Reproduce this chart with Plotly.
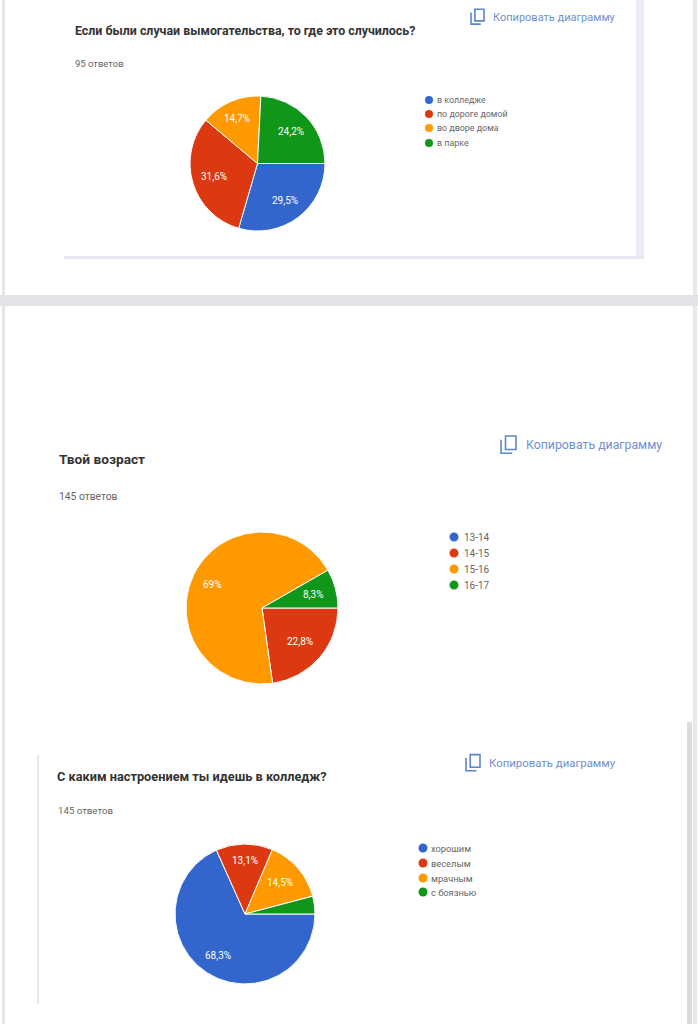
import plotly.graph_objects as go

W = 698
H = 1024

# values
where_labels = ['в колледже', 'по дороге домой', 'во дворе дома', 'в парке']
where_values = [29.5, 31.6, 14.7, 24.2]
where_text = ['29,5%', '31,6%', '14,7%', '24,2%']

age_labels = ['13-14', '14-15', '15-16', '16-17']
age_values = [0, 22.8, 69, 8.3]
age_text = ['', '22,8%', '69%', '8,3%']

mood_labels = ['хорошим', 'веселым', 'мрачным', 'с боязнью']
mood_values = [68.3, 13.1, 14.5, 4.1]
mood_text = ['68,3%', '13,1%', '14,5%', '']

colors = ['#3366cc', '#dc3912', '#ff9900', '#109618']
font = 'Roboto'
shapes = []
notes = []


def px(x):
    return x / W


def py(y):
    return 1 - y / H


def rect(x0, y0, x1, y1, color):
    shapes.append(dict(type='rect', xref='paper', yref='paper', x0=px(x0), x1=px(x1), y0=py(y0), y1=py(y1),
                       fillcolor=color, line_width=0, layer='below'))


def label(x, y, text, size, color, bold=False, anchor='left'):
    if bold:
        text = '<b>' + text + '</b>'
    # annotations carry 2px of padding, take it back for left aligned text
    shift = -2 if anchor == 'left' else 0
    notes.append(dict(xref='paper', yref='paper', x=px(x), y=py(y), text=text, showarrow=False, xanchor=anchor,
                      yanchor='middle', xshift=shift, font=dict(family=font, size=size, color=color)))


# copy icon + link text
def copy_link(x, y, size, text_x, font_size):
    blue = '#5b86cc'
    shapes.append(dict(type='rect', xref='paper', yref='paper', x0=px(x + size * 0.3), x1=px(x + size),
                       y0=py(y - size * 0.6), y1=py(y + size * 0.3), line=dict(color=blue, width=1.6)))
    shapes.append(dict(type='path', xref='paper', yref='paper', line=dict(color=blue, width=1.6),
                       path='M %f %f L %f %f L %f %f' % (px(x), py(y - size * 0.35), px(x), py(y + size * 0.55),
                                                         px(x + size * 0.75), py(y + size * 0.55))))
    label(text_x, y, 'Копировать диаграмму', font_size, '#6f8fd0')


def legend(x, ys, names, r, text_x, size):
    for name, y, c in zip(names, ys, colors):
        shapes.append(dict(type='circle', xref='paper', yref='paper', x0=px(x - r), x1=px(x + r),
                           y0=py(y + r), y1=py(y - r), fillcolor=c, line_width=0))
        label(text_x, y, name, size, '#666666')


def pie(names, values, cx, cy, d):
    return go.Pie(labels=names, values=values, textinfo='none', sort=False, direction='clockwise',
                  rotation=90, showlegend=False,
                  marker=dict(colors=colors, line=dict(color='white', width=1)),
                  domain=dict(x=[px(cx - d / 2), px(cx + d / 2)], y=[py(cy + d / 2), py(cy - d / 2)]))


# percent labels sit where the original chart put them, not at the plotly default
def slice_labels(texts, spots):
    for t, spot in zip(texts, spots):
        if t:
            label(spot[0], spot[1], t, 10, 'white', anchor='center')


# page background and card edges
rect(2, 0, 5, H, '#e4e4e9')
rect(693, 0, 697, H, '#e8e8ec')
rect(0, 295, W, 306, '#e4e4e8')
rect(636, 0, 644, 259, '#efe9f6')
rect(64, 256, 644, 259, '#e8e6f2')
rect(37, 755, 39, 1004, '#e8e8e8')
rect(687, 722, 692, H, '#dcdcdc')

label(75, 30, 'Если были случаи вымогательства, то где это случилось?', 12.4, '#333333', True)
label(75, 63, '95 ответов', 9.5, '#666666')
copy_link(471, 17, 13, 493, 11)
legend(429, [100, 114, 128, 143], where_labels, 4, 437, 8.9)
slice_labels(where_text, [(285, 200), (214, 176), (237, 118), (291, 131)])

label(59, 459, 'Твой возраст', 13.7, '#333333', True)
label(59, 496, '145 ответов', 10.3, '#666666')
copy_link(501, 445, 15, 526, 12.3)
legend(454, [537, 553, 569, 585], age_labels, 4.5, 464, 10)
slice_labels(age_text, [(0, 0), (300, 641), (212, 584), (313, 594)])

label(57, 776, 'С каким настроением ты идешь в колледж?', 12.75, '#333333', True)
label(58, 810, '145 ответов', 9.7, '#666666')
copy_link(466, 763, 14, 489, 11.4)
legend(423, [848, 863, 878, 892], mood_labels, 4.5, 431, 9.3)
slice_labels(mood_text, [(218, 955), (245, 860), (280, 882), (0, 0)])

fig = go.Figure()
fig.add_trace(pie(where_labels, where_values, 257.5, 163.5, 135))
fig.add_trace(pie(age_labels, age_values, 262, 608, 152))
fig.add_trace(pie(mood_labels, mood_values, 245, 914, 140))
fig.update_layout(width=W, height=H, margin=dict(l=0, r=0, t=0, b=0), paper_bgcolor='white', plot_bgcolor='white',
                  shapes=shapes, annotations=notes)
fig.write_html("out.html", config=dict(displayModeBar=False),
               post_script="document.body.style.margin='0';document.body.style.overflow='hidden';")
